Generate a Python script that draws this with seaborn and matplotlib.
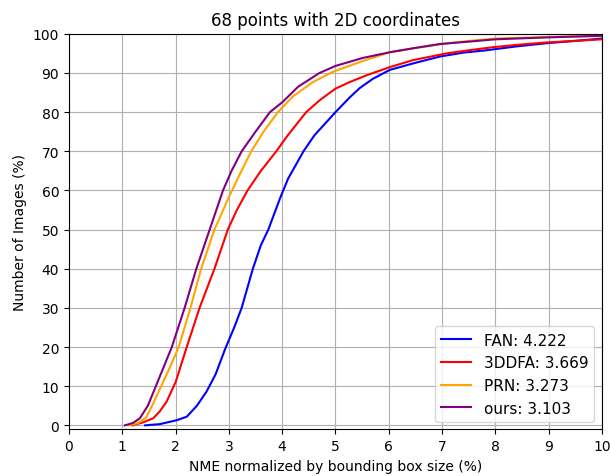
import matplotlib
matplotlib.use("Agg")
import matplotlib.pyplot as plt
import pandas as pd
import seaborn as sns

# CED curves: NME (%) vs cumulative share of images (%)
fan_x = [1.43, 1.7, 2.02, 2.21, 2.4, 2.58, 2.75, 2.93, 3.1, 3.24, 3.45, 3.6, 3.74, 3.96, 4.11,
         4.4, 4.6, 4.9, 5.0, 5.27, 5.46, 5.7, 6.02, 6.5, 6.96, 7.4, 7.83, 8.4, 8.96, 9.5, 10]
fan_y = [0, 0.3, 1.3, 2.2, 5, 8.6, 13, 19.5, 25, 30, 40, 46, 50, 58, 63,
         70, 74, 78.5, 80, 83.8, 86.2, 88.5, 90.8, 92.6, 94.2, 95.2, 95.8, 96.8, 97.6, 98.2, 98.8]

ddfa_x = [1.19, 1.4, 1.58, 1.7, 1.83, 2.0, 2.21, 2.45, 2.73, 2.98, 3.15, 3.35, 3.6, 3.89, 4.1,
          4.45, 4.7, 5.0, 5.27, 5.6, 6.02, 6.46, 7.08, 7.5, 7.96, 8.5, 8.96, 9.5, 10]
ddfa_y = [0, 0.8, 1.8, 3.5, 6, 11, 20, 30, 40, 50, 55, 60, 65, 70, 74,
          80, 83, 86, 87.7, 89.5, 91.5, 93.3, 95.0, 95.8, 96.6, 97.3, 97.8, 98.2, 98.6]

prn_x = [1.12, 1.3, 1.45, 1.56, 1.73, 1.9, 2.06, 2.28, 2.48, 2.73, 2.99, 3.2, 3.42, 3.65, 3.92,
         4.2, 4.58, 4.95, 5.5, 6.02, 6.5, 7.0, 7.5, 8.0, 9.0, 10]
prn_y = [0, 0.6, 2, 5, 10, 15, 20, 30, 40, 50, 58, 64, 70, 75, 80,
         84, 87.7, 90.3, 93, 95.3, 96.4, 97.4, 98.2, 98.8, 99.2, 99.5]

ours_x = [1.05, 1.2, 1.33, 1.48, 1.63, 1.78, 1.93, 2.17, 2.39, 2.64, 2.84, 2.89, 3.05, 3.24,
          3.5, 3.77, 4.0, 4.3, 4.7, 5.0, 5.5, 6.02, 6.5, 6.96, 7.5, 8.0, 9.0, 10]
ours_y = [0, 0.6, 1.8, 5, 10, 15, 20, 30, 40, 50, 58, 60, 65, 70,
          75, 80, 82.5, 86.5, 90, 91.8, 93.8, 95.3, 96.4, 97.4, 98, 98.6, 99.1, 99.5]

methods = ["FAN: 4.222", "3DDFA: 3.669", "PRN: 3.273", "ours: 3.103"]
colors = ["blue", "red", "orange", "purple"]
curves = [(fan_x, fan_y), (ddfa_x, ddfa_y), (prn_x, prn_y), (ours_x, ours_y)]

fig = plt.figure(figsize=(6.1, 4.77), dpi=100)
ax = fig.add_axes([0.113, 0.098, 0.874, 0.829])

for name, col, (xs, ys) in zip(methods, colors, curves):
    df = pd.DataFrame({"nme": xs, "pct": ys})
    sns.lineplot(data=df, x="nme", y="pct", color=col, label=name, ax=ax,
                 estimator=None, sort=False, linewidth=1.5)

ax.set_xlim(0, 10)
ax.set_ylim(-1, 100)
ax.set_xticks(range(0, 11))
ax.set_yticks(range(0, 101, 10))
ax.grid(True, color="#b0b0b0", linewidth=0.8)
ax.set_title("68 points with 2D coordinates")
ax.set_xlabel("NME normalized by bounding box size (%)")
ax.set_ylabel("Number of Images (%)")
ax.legend(loc="lower right", fontsize=11)

fig.savefig("out.png", dpi=100)
